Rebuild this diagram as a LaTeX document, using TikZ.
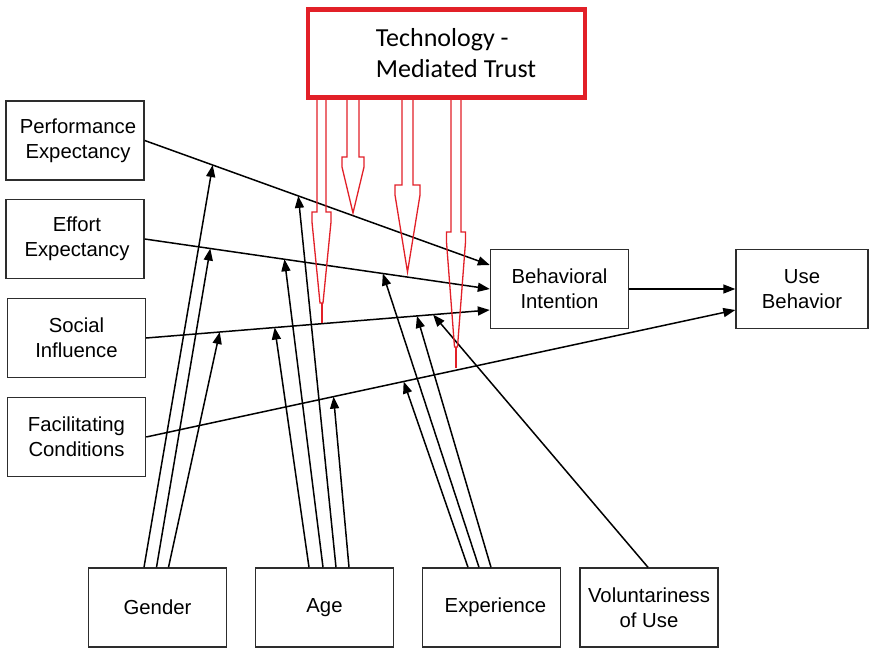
\documentclass[tikz,border=0pt]{standalone}
\usepackage{fontspec}
\setmainfont{Liberation Sans}
\newfontfamily\calib{Carlito}
\usetikzlibrary{calc,arrows.meta}
\definecolor{tmtred}{RGB}{226,32,40}
\definecolor{boxgray}{RGB}{45,45,45}
\newcommand\tmtarrow[7]{%
  \draw[redl] (#1-#2,100) -- (#1-#2,#3) -- (#1-#4,#3) -- (#1-#4,#3+10) -- (#1-#6,#5)
    -- (#1+#6,#5) -- (#1+#4,#3+10) -- (#1+#4,#3) -- (#1+#2,#3) -- (#1+#2,100);
  \draw[tmtred, line width=2pt] (#1,#5) -- (#1,#7);}
\begin{document}
\begin{tikzpicture}[x=1pt,y=-1pt,
  box/.style={draw=boxgray, line width=1.4pt, minimum width=138pt, minimum height=79pt,
    align=center, inner sep=0pt, font=\fontsize{20.3}{25}\selectfont},
  conn/.style={draw=black, line width=1.5pt, -{Triangle[length=12pt,width=9pt]}},
  redl/.style={draw=tmtred, line width=1.3pt}]
\useasboundingbox (0,0) rectangle (870,648);
\fill[white] (0,0) rectangle (870,648);

% boxes
\node[draw=tmtred, line width=4.5pt, minimum width=277pt, minimum height=88pt, align=left,
  inner sep=0pt, font=\calib\fontsize{26}{31}\selectfont] (tmt) at (446.5,53.5)
  {\hspace*{19pt}Technology -\\\hspace*{19pt}Mediated Trust};
\node[box] (pe) at (75,140.5) {\hspace*{6pt}Performance\\\hspace*{6pt}Expectancy};
\node[box] (ee) at (75,239) {\hspace*{4pt}Effort\\\hspace*{4pt}Expectancy};
\node[box] (si) at (76.5,338) {Social\\Influence};
\node[box] (fc) at (76.5,437) {Facilitating\\Conditions};
\node[box] (bi) at (559.5,289) {Behavioral\\Intention};
\node[box, minimum width=132pt] (ub) at (802,289) {Use\\Behavior};
\node[box] (gender) at (157.5,607.5) {Gender};
\node[box] (age) at (324.5,607.5) {Age};
\node[box] (exp) at (491.5,607.5) {\hspace*{8pt}Experience};
\node[box] (vol) at (649,607.5) {Voluntariness\\of Use};

% main paths
\coordinate (bi1) at ($(bi.west)+(0,-24)$);
\coordinate (bi3) at ($(bi.west)+(0,21)$);
\coordinate (ub2) at ($(ub.west)+(0,21)$);
\draw[conn] (pe.east) -- (bi1);
\draw[conn] (ee.east) -- (bi.west);
\draw[conn] (si.east) -- (bi3);
\draw[conn] (fc.east) -- (ub2);
\draw[conn] (bi.east) -- (ub.west);

% moderator targets on the paths
\coordinate (tpe1) at ($(pe.east)!0.197!(bi1)$);
\coordinate (tpe2) at ($(pe.east)!0.445!(bi1)$);
\coordinate (tee1) at ($(ee.east)!0.19!(bi.west)$);
\coordinate (tee2) at ($(ee.east)!0.405!(bi.west)$);
\coordinate (tee3) at ($(ee.east)!0.69!(bi.west)$);
\coordinate (tsi1) at ($(si.east)!0.214!(bi3)$);
\coordinate (tsi2) at ($(si.east)!0.374!(bi3)$);
\coordinate (tsi3) at ($(si.east)!0.788!(bi3)$);
\coordinate (tsi4) at ($(si.east)!0.835!(bi3)$);
\coordinate (tfc1) at ($(fc.east)!0.318!(ub2)$);
\coordinate (tfc2) at ($(fc.east)!0.437!(ub2)$);

% moderator sources
\coordinate (g1) at ($(gender.north)+(-13.5,0)$);
\coordinate (g2) at ($(gender.north)+(-1,0)$);
\coordinate (g3) at ($(gender.north)+(11,0)$);
\coordinate (a1) at ($(age.north)+(-15.5,0)$);
\coordinate (a2) at ($(age.north)+(-1.5,0)$);
\coordinate (a3) at ($(age.north)+(11.5,0)$);
\coordinate (a4) at ($(age.north)+(24.5,0)$);
\coordinate (e1) at ($(exp.north)+(-23.5,0)$);
\coordinate (e2) at ($(exp.north)+(-12.5,0)$);
\coordinate (e3) at ($(exp.north)+(-0.5,0)$);
\coordinate (v1) at ($(vol.north)+(-1,0)$);

\draw[conn] (g1) -- (tpe1);
\draw[conn] (g2) -- (tee1);
\draw[conn] (g3) -- (tsi1);
\draw[conn] (a1) -- (tsi2);
\draw[conn] (a2) -- (tee2);
\draw[conn] (a3) -- (tpe2);
\draw[conn] (a4) -- (tfc1);
\draw[conn] (e1) -- (tfc2);
\draw[conn] (e2) -- (tee3);
\draw[conn] (e3) -- (tsi3);
\draw[conn] (v1) -- (tsi4);

% red block arrows from Technology-Mediated Trust
\tmtarrow{321.5}{4.5}{212}{9.5}{303}{1.5}{323}
\tmtarrow{353}{6}{157}{11}{213}{0}{213}
\tmtarrow{407.5}{5.5}{185}{12.5}{272}{0}{272}
\tmtarrow{456}{5}{232}{9.5}{347}{1.5}{368}
\end{tikzpicture}
\end{document}
